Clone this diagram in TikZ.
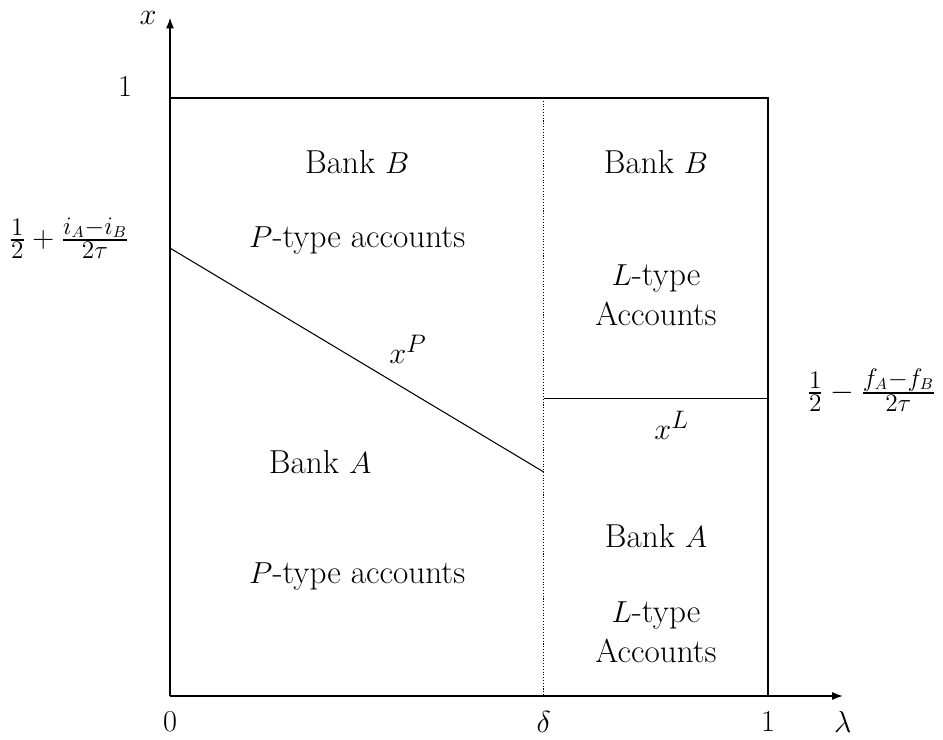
\documentclass[tikz,border=0pt]{standalone}
\usepackage{amsmath}
\usepackage{amssymb}
\usetikzlibrary{arrows.meta}

\begin{document}
\begin{tikzpicture}[x=11.96cm,y=11.96cm,>={Latex[length=6pt,width=4.5pt]},
                    semithick,font=\fontsize{18.9}{22.7}\selectfont]
  \useasboundingbox (-0.2843,-0.0719) rectangle (1.2926,1.1639);

  \coordinate (O)    at (0,0);
  \coordinate (XT)   at (0,1.134);
  \coordinate (LT)   at (1.125,0);
  \coordinate (TL)   at (0,1);
  \coordinate (TR)   at (1,1);
  \coordinate (BR)   at (1,0);
  \coordinate (DT)   at (0.625,1);
  \coordinate (DB)   at (0.625,0);
  \coordinate (PL)   at (0,0.749);
  \coordinate (PR)   at (0.625,0.3746);
  \coordinate (LL)   at (0.625,0.498);
  \coordinate (LR)   at (1,0.498);

  % axes
  \draw[->] (O) -- (XT);
  \draw[->] (O) -- (LT);
  \node (xl)   at (-0.0368,1.134) {$x$};
  \node (lam)  at (1.125,-0.0435) {$\lambda$};
  \node (one)  at (-0.075,1.0184) {$1$};
  \node (zero) at (0,-0.0435)     {$0$};
  \node (del)  at (0.625,-0.0435) {$\delta$};
  \node (onel) at (1,-0.0435)     {$1$};

  % box
  \draw (TL) -- (TR) -- (BR);
  \draw[densely dotted] (DT) -- (DB);
  \draw (PL) -- (PR);
  \draw (LL) -- (LR);

  \node (ip) at (-0.169,0.766) {$\frac{1}{2}+\frac{i_A-i_B}{2\tau}$};
  \node (fl) at (1.173,0.512)  {$\frac{1}{2}-\frac{f_A-f_B}{2\tau}$};
  \node (xp) at (0.398,0.579)  {$x^P$};
  \node (xL) at (0.839,0.453)  {$x^L$};

  % regions
  \node (BB)  at (0.313,0.893)  {Bank $B$};
  \node (PB)  at (0.313,0.7625) {$P$-type accounts};
  \node (BA)  at (0.251,0.391)  {Bank $A$};
  \node (PA)  at (0.313,0.2)    {$P$-type accounts};
  \node (BB2) at (0.8127,0.893) {Bank $B$};
  \node (LB)  [align=center] at (0.8127,0.6706) {$L$-type\\Accounts};
  \node (BA2) at (0.8127,0.2676) {Bank $A$};
  \node (LA)  [align=center] at (0.8127,0.107) {$L$-type\\Accounts};
\end{tikzpicture}
\end{document}
